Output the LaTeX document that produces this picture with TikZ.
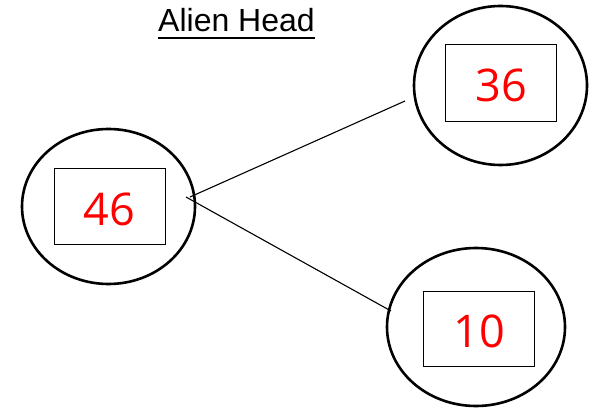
\documentclass[tikz,border=0pt]{standalone}
\usepackage{fontspec}
\setmainfont{Liberation Sans}
\newfontfamily\numfont{Open Sans}
\usetikzlibrary{shapes.geometric}
\begin{document}
\begin{tikzpicture}[x=1pt,y=-1pt,
  headshape/.style={ellipse,draw,line width=2.6pt,inner sep=0pt},
  numbox/.style={rectangle,draw,line width=1.8pt,inner sep=0pt,text=red,
    font=\numfont\fontsize{45}{50}\selectfont},
  link/.style={line width=1.1pt}]
\useasboundingbox (0,0) rectangle (593,411);
\node[anchor=base,inner sep=0pt,font=\fontsize{32}{36}\selectfont] (title) at (236.5,32) {Alien Head};
\draw[line width=2pt] ([yshift=-6.5pt]title.base west) -- ([yshift=-6.5pt]title.base east);
% left
\node[headshape,minimum width=173pt,minimum height=155pt] (lh) at (108.5,206.5) {};
\node[numbox,minimum width=111pt,minimum height=76pt] (lb) at (110,206.5) {};
\node[text=red,font=\numfont\fontsize{45}{50}\selectfont,inner sep=0pt] (ln) at (109,209) {46};
% top right
\node[headshape,minimum width=173pt,minimum height=159pt] (th) at (500.5,85.5) {};
\node[numbox,minimum width=111pt,minimum height=77pt] (tb) at (501,83) {};
\node[text=red,font=\numfont\fontsize{45}{50}\selectfont,inner sep=0pt] (tn) at (501.5,85) {36};
% bottom right
\node[headshape,minimum width=178pt,minimum height=158pt] (bh) at (476,327) {};
\node[numbox,minimum width=111pt,minimum height=75pt] (bb) at (479,329) {};
\node[text=red,font=\numfont\fontsize{45}{50}\selectfont,inner sep=0pt] (bn) at (479.5,331) {10};
% connectors
\coordinate (s1) at (190,197);
\coordinate (s2) at (186,197);
\coordinate (e1) at (405,101);
\coordinate (e2) at (391,311);
\draw[link] (s1) -- (e1);
\draw[link] (s2) -- (e2);
\end{tikzpicture}
\end{document}
